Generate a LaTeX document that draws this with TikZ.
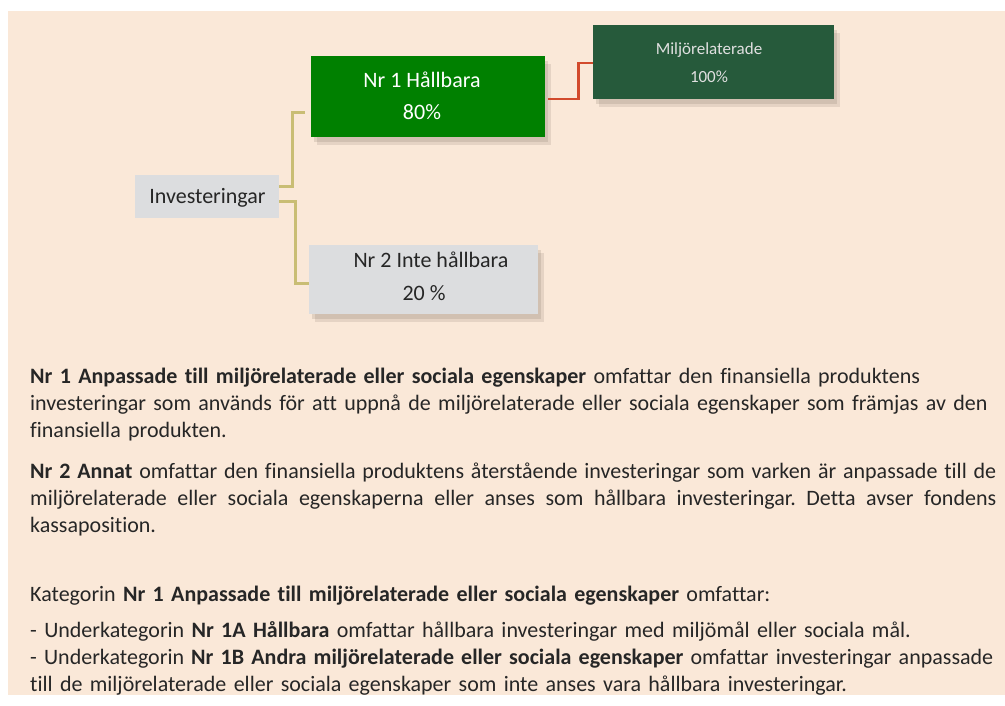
\documentclass[tikz,border=0pt]{standalone}
\usepackage{fontspec}
\setmainfont{Carlito}[Ligatures={NoCommon}]
\usetikzlibrary{calc,shadows}
\definecolor{bg}{HTML}{FAE8D8}
\definecolor{gBox}{HTML}{008000}
\definecolor{dgBox}{HTML}{265A3B}
\definecolor{grBox}{HTML}{DCDDDF}
\definecolor{olv}{HTML}{C9BD74}
\definecolor{rdl}{HTML}{D24A2C}
\definecolor{txt}{HTML}{262626}
\definecolor{shd}{HTML}{7A6A5E}
\newcommand\jline[2]{\leavevmode\hbox to #1{\spaceskip=.226em plus 1fil minus .08em\relax #2}}
\tikzset{
  boxshadow/.style={
    drop shadow={shadow xshift=3pt,shadow yshift=-5pt,fill=shd,opacity=0.18},
    drop shadow={shadow xshift=6pt,shadow yshift=-8pt,fill=shd,opacity=0.16}},
  box/.style={draw=none,inner sep=0pt,anchor=north west},
  lbl/.style={anchor=base,inner sep=0pt,font=\fontsize{22}{26}\selectfont},
  slbl/.style={anchor=base,inner sep=0pt,font=\fontsize{17}{20}\selectfont,text=white!88!black},
  para/.style={anchor=base west,inner sep=0pt,text width=975pt,align=left,text=txt,font=\fontsize{22}{27.2}\selectfont\frenchspacing},
  conn/.style={line width=2.6pt},
}
\begin{document}
\begin{tikzpicture}[x=1pt,y=-1pt]
\useasboundingbox (0,0) rectangle (1005,705);
\fill[white] (0,0) rectangle (1005,705);
\fill[bg] (8,11) rectangle (1005,695);

% boxes
\node[box,boxshadow,fill=gBox,minimum width=234pt,minimum height=81pt] (n1) at (311,56) {};
\node[box,fill=grBox,minimum width=144pt,minimum height=43pt] (inv) at (135,175) {};
\node[box,boxshadow,fill=grBox,minimum width=229pt,minimum height=69pt] (n2) at (309,245) {};
\node[box,boxshadow,fill=dgBox,minimum width=241pt,minimum height=74pt] (m) at (593,25) {};

% box texts
\node[lbl,text=white] (n1a) at (422,87.7) {Nr 1 Hållbara};
\node[lbl,text=white] (n1b) at (422,119) {80\%};
\node[lbl,text=txt] (invt) at (207.5,203.3) {Investeringar};
\node[lbl,text=txt] (n2a) at (431,267.7) {Nr 2 Inte hållbara};
\node[lbl,text=txt] (n2b) at (424,300) {20 \%};
\node[slbl] (ma) at (709,54.7) {Miljörelaterade};
\node[slbl] (mb) at (709,82.3) {100\%};

% connectors
\draw[conn,olv] ($(inv.east)+(0,-10.5)$) -- ++(13,0) |- ($(n1.west)+(-6,15.5)$);
\draw[conn,olv] ($(inv.east)+(0,4.5)$) -- ++(16,0) |- ($(n2.west)+(0,3.5)$);
\draw[conn,rdl,line width=2.3pt] ($(n1.east)+(3,2.5)$) -- ++(30,0) |- ($(m.west)+(0,0.5)$);

% paragraphs
\node[para] (p1) at (30,383.5) {\textbf{Nr 1 Anpassade till miljörelaterade eller sociala egenskaper} omfattar den finansiella produktens\\
investeringar som används för att uppnå de miljörelaterade eller sociala egenskaper som främjas av den\\
finansiella produkten.};

\node[para] (p2) at (30,478) {\jline{966pt}{\textbf{Nr 2 Annat} omfattar den finansiella produktens återstående investeringar som varken är anpassade till de}\\
\jline{966pt}{miljörelaterade eller sociala egenskaperna eller anses som hållbara investeringar. Detta avser fondens}\\
kassaposition.};

\node[para] (p3) at (30,601.5) {Kategorin \textbf{Nr 1 Anpassade till miljörelaterade eller sociala egenskaper} omfattar:\\[8.3pt]
- Underkategorin \textbf{Nr 1A Hållbara} omfattar hållbara investeringar med miljömål eller sociala mål.\\
\jline{963pt}{- Underkategorin \textbf{Nr 1B Andra miljörelaterade eller sociala egenskaper} omfattar investeringar anpassade}\\
till de miljörelaterade eller sociala egenskaper som inte anses vara hållbara investeringar.};
\end{tikzpicture}
\end{document}
